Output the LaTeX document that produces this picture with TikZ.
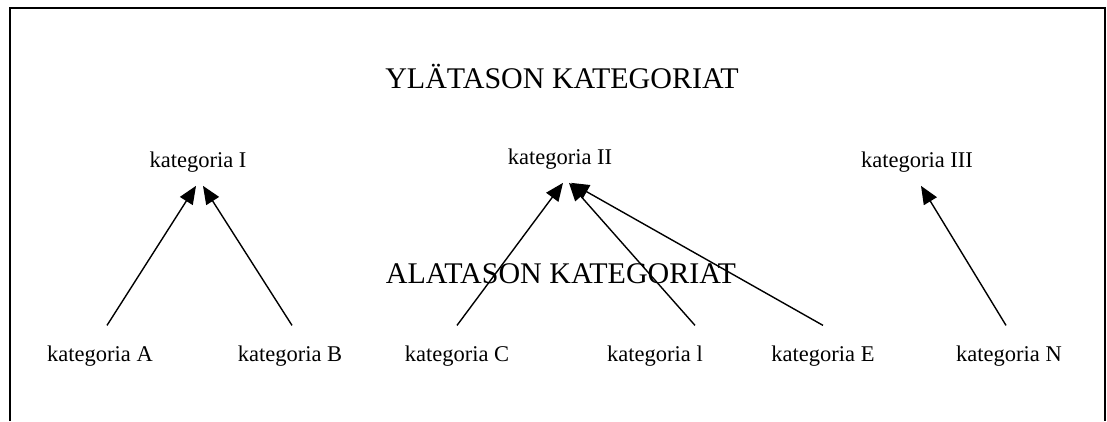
\documentclass[tikz,border=0pt]{standalone}
\usepackage{fontspec}
\setmainfont{Liberation Serif}
\usetikzlibrary{arrows.meta}
\begin{document}
\begin{tikzpicture}[x=1pt,y=-1pt,
  head/.style={anchor=base,font=\fontsize{30}{36}\selectfont},
  upper/.style={anchor=base,inner sep=1pt,outer ysep=13pt,font=\fontsize{22.5}{27}\selectfont},
  lower/.style={anchor=base,inner sep=1pt,outer ysep=19pt,font=\fontsize{22.5}{27}\selectfont},
  link/.style={draw,line width=1.4pt,-{Triangle[length=18pt,width=15pt]}}]
\useasboundingbox (0,0) rectangle (1107,421);
\path[draw,line width=1.6pt] (10,421) -- (10,8) -- (1105,8) -- (1105,421);

\node[head] (ylataso) at (562,88) {YLÄTASON KATEGORIAT};
\node[upper] (I) at (198,167) {kategoria I};
\node[upper] (II) at (560,164) {kategoria II};
\node[upper] (III) at (917,167) {kategoria III};
\node[head] (alataso) at (561,283) {ALATASON KATEGORIAT};
\node[lower] (A) at (100,361) {kategoria A};
\node[lower] (B) at (290,361) {kategoria B};
\node[lower] (C) at (457,361) {kategoria C};
\node[lower] (D) at (655,361) {kategoria l};
\node[lower] (E) at (823,361) {kategoria E};
\node[lower] (N) at (1009,361) {kategoria N};

\path[link] ([xshift=7pt]A.north) -- ([xshift=-2pt]I.south);
\path[link] ([xshift=2pt]B.north) -- ([xshift=5pt]I.south);
\path[link] (C.north) -- ([xshift=3pt]II.south);
\path[link] ([xshift=40pt]D.north) -- ([xshift=9pt]II.south);
\path[link] (E.north) -- ([xshift=11pt]II.south);
\path[link] ([xshift=-3pt]N.north) -- ([xshift=4pt]III.south);
\end{tikzpicture}
\end{document}
